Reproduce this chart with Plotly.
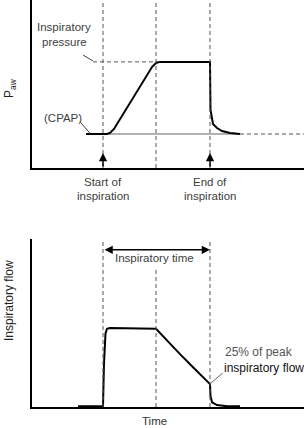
import plotly.graph_objects as go

W, H = 304, 428

# ---- data (time in s) ----
t_pressure = [0.54, 0.75, 0.78, 0.82, 1.20, 1.24, 1.28, 1.78, 1.785, 1.795, 1.81, 1.85, 1.90, 1.98, 2.08]
p_aw = [5.0, 5.0, 5.15, 5.74, 14.85, 15.44, 15.6, 15.6, 8.53, 7.35, 6.47, 5.88, 5.44, 5.15, 5.0]
cpap = 5.0
insp_pressure = 15.6
cpap_line_t = [0.54, 2.08]
cpap_ext_t = [2.08, 2.72]
insp_pressure_t = [0.61, 1.26]

t_flow = [0.46, 0.71, 0.72, 0.735, 0.75, 0.78, 1.24, 1.347, 1.48, 1.613, 1.78, 1.785, 1.80, 1.85, 1.95, 2.08]
flow = [0.01, 0.01, 0.55, 0.93, 0.99, 1.0, 0.99, 0.845, 0.67, 0.50, 0.29, 0.14, 0.06, 0.025, 0.01, 0.01]

t_start, t_mid, t_end = 0.71, 1.24, 1.78
t_range = [0, 2.72]
p_range = [0, 24.7]
f_range = [0, 2.127]

FONT = "Liberation Sans"
TXT = "#404040"
DASH_C = "#555555"
DASH = "4px,3px"


def px(x):
    return x / W


def py(y):
    return 1 - y / H


fig = go.Figure()

# top panel
fig.add_trace(go.Scatter(x=cpap_line_t, y=[cpap, cpap], mode="lines",
                         line=dict(color="#666666", width=1), xaxis="x", yaxis="y"))
fig.add_trace(go.Scatter(x=cpap_ext_t, y=[cpap, cpap], mode="lines",
                         line=dict(color=DASH_C, width=1, dash=DASH), xaxis="x", yaxis="y"))
fig.add_trace(go.Scatter(x=insp_pressure_t, y=[insp_pressure, insp_pressure], mode="lines",
                         line=dict(color=DASH_C, width=1, dash=DASH), xaxis="x", yaxis="y"))
fig.add_trace(go.Scatter(x=t_pressure, y=p_aw, mode="lines",
                         line=dict(color="black", width=2), xaxis="x", yaxis="y"))

# bottom panel
fig.add_trace(go.Scatter(x=t_flow, y=flow, mode="lines",
                         line=dict(color="black", width=2), xaxis="x2", yaxis="y2"))

shapes = []
for t in (t_start, t_mid, t_end):
    shapes.append(dict(type="line", xref="x", yref="y domain", x0=t, x1=t, y0=0, y1=1,
                       line=dict(color=DASH_C, width=1, dash=DASH)))
for t in (t_start, t_end):
    shapes.append(dict(type="line", xref="x2", yref="y2 domain", x0=t, x1=t, y0=0, y1=1,
                       line=dict(color=DASH_C, width=1, dash=DASH)))
shapes.append(dict(type="line", xref="x2", yref="y2", x0=t_mid, x1=t_mid, y0=0, y1=1.77,
                   line=dict(color=DASH_C, width=1, dash=DASH)))
# leader lines
shapes.append(dict(type="line", xref="x", yref="y", x0=0.51, y0=16.6, x1=0.61, y1=15.75,
                   line=dict(color="#444", width=1)))
shapes.append(dict(type="line", xref="x", yref="y", x0=0.48, y0=6.8, x1=0.58, y1=5.1,
                   line=dict(color="#444", width=1)))
shapes.append(dict(type="line", xref="x2", yref="y2", x0=1.787, y0=0.30, x1=1.907, y1=0.43,
                   line=dict(color="#666", width=1)))

ann = []


def label(text, x, y, size=11.5, color=TXT, angle=0, xanchor="center"):
    ann.append(dict(text=text, x=px(x), y=py(y), xref="paper", yref="paper", showarrow=False,
                    xanchor=xanchor, yanchor="middle", textangle=angle,
                    font=dict(family=FONT, size=size, color=color)))


label("Inspiratory", 64, 27, 11.5)
label("pressure", 64, 42, 11.5)
label("(CPAP)", 63, 118, 11.5)
label("Start of", 103, 182, 11.5)
label("inspiration", 103, 196, 11.5)
label("End of", 210, 182, 11.5)
label("inspiration", 210, 196, 11.5)
label("P<sub>aw</sub>", 10, 88, 12, "#222", -90)
label("Inspiratory time", 155, 258, 11.5)
label("25% of peak", 223, 352, 12, "#555", xanchor="left")
label("inspiratory flow", 222, 368, 12, "#111", xanchor="left")
label("Time", 154, 421, 11.5, "#333")
label("Inspiratory flow", 9, 301, 12, "#222", -90)

# arrows
for t in (t_start, t_end):
    ann.append(dict(x=t, y=2.2, xref="x", yref="y", ax=0, ay=15, text="", showarrow=True,
                    arrowhead=2, arrowsize=1.1, arrowwidth=1.5, arrowcolor="black", standoff=0))
ann.append(dict(x=t_end, y=1.99, ax=t_start, ay=1.99, xref="x2", yref="y2", axref="x2", ayref="y2",
                text="", showarrow=True, arrowside="end+start", arrowhead=2, startarrowhead=2,
                arrowsize=1.1, startarrowsize=1.1, arrowwidth=1.5, arrowcolor="black",
                standoff=0, startstandoff=0))

axis_common = dict(showgrid=False, zeroline=False, showticklabels=False, ticks="",
                   showline=True, linecolor="black", linewidth=1.5, fixedrange=True)

fig.update_layout(
    width=W, height=H, margin=dict(l=0, r=0, t=0, b=0),
    paper_bgcolor="white", plot_bgcolor="white", showlegend=False,
    xaxis=dict(domain=[32 / W, 1], range=t_range, anchor="y", **axis_common),
    yaxis=dict(domain=[py(168), 1], range=p_range, anchor="x", **axis_common),
    xaxis2=dict(domain=[32 / W, 1], range=t_range, anchor="y2", **axis_common),
    yaxis2=dict(domain=[py(407), py(239)], range=f_range, anchor="x2", **axis_common),
    shapes=shapes, annotations=ann,
)

fig.write_html("out.html")
